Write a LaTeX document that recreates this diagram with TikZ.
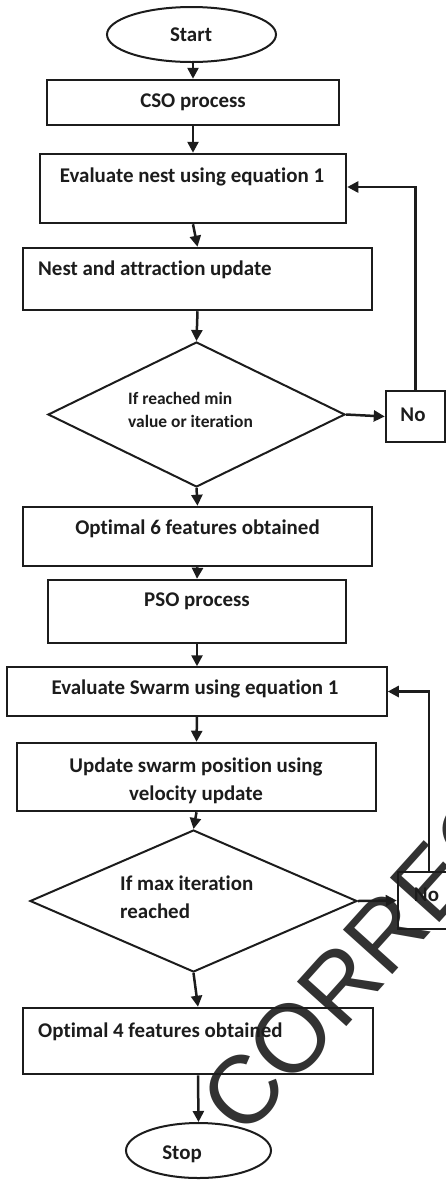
\documentclass[tikz,border=0pt]{standalone}
\usepackage{fontspec}
\setmainfont{Carlito}[Ligatures=NoCommon]
\newfontfamily\wmfont{Liberation Sans}
\usetikzlibrary{shapes.geometric,arrows.meta}
\definecolor{ink}{HTML}{1C1C1C}
\tikzset{
  box/.style={draw=ink, line width=2.5bp, rectangle, inner sep=0pt},
  thinbox/.style={draw=ink, line width=1.5bp, rectangle, inner sep=0pt},
  oval/.style={draw=ink, line width=2bp, ellipse, inner sep=0pt},
  dia/.style={draw=ink, line width=2bp, diamond, inner sep=0pt},
  lbl/.style={text=ink, inner sep=0pt, font=\bfseries\fontsize{21}{28}\selectfont},
  slbl/.style={text=ink, inner sep=0pt, font=\bfseries\fontsize{17.5}{23}\selectfont},
  arr/.style={draw=ink, line width=2.5bp, -{Triangle[length=11bp,width=11bp]}},
}
\begin{document}
\begin{tikzpicture}[x=1bp,y=-1bp]
\useasboundingbox (0,0) rectangle (446,1180);
\fill[white] (0,0) rectangle (446,1180);
\begin{scope}
\clip (0,0) rectangle (446,1180);
% shapes
\node[oval, minimum width=169bp, minimum height=55bp] (start) at (191.5,34.5) {};
\node[box, minimum width=292bp, minimum height=45bp] (cso) at (193,102.5) {};
\node[box, minimum width=306bp, minimum height=69bp] (evn) at (193,188.5) {};
\node[box, minimum width=349bp, minimum height=62bp] (nest) at (197.5,279) {};
\node[dia, minimum width=297bp, minimum height=145bp] (d1) at (196.5,414.5) {};
\node[box, minimum width=59bp, minimum height=51bp] (no1) at (415.5,416.5) {};
\node[box, minimum width=349bp, minimum height=59bp] (opt6) at (197.5,536.5) {};
\node[box, minimum width=298bp, minimum height=63bp] (pso) at (197,611.5) {};
\node[thinbox, minimum width=380bp, minimum height=49bp] (evs) at (197,691.5) {};
\node[box, minimum width=359bp, minimum height=68bp] (upd) at (196.5,777) {};
\node[dia, minimum width=327bp, minimum height=142bp] (d2) at (193.5,901) {};
\node[box, minimum width=72bp, minimum height=57bp] (no2) at (434,900.5) {};
\node[box, minimum width=350bp, minimum height=66bp] (opt4) at (198,1041) {};
\node[oval, minimum width=145bp, minimum height=55bp] (stop) at (198.5,1150.5) {};
% texts
\node[lbl] (tstart) at (191,35) {Start};
\node[lbl] (tcso) at (193,102) {CSO process};
\node[lbl] (tevn) at (192,177) {Evaluate nest using equation 1};
\node[lbl, anchor=west] (tnest) at (38,270) {Nest and attraction update};
\node[slbl, anchor=west, align=left] (td1) at (128,409.5) {If reached min\\value or iteration};
\node[lbl] (tno1) at (413,415) {No};
\node[lbl] (topt6) at (197.5,529) {Optimal 6 features obtained};
\node[lbl] (tpso) at (197,601) {PSO process};
\node[lbl] (tevs) at (195,689) {Evaluate Swarm using equation 1};
\node[lbl, align=center] (tupd) at (196,781) {Update swarm position using\\velocity update};
\node[lbl, anchor=west, align=left] (td2) at (120,897.5) {If max iteration\\reached};
\node[lbl] (tno2) at (426.5,895) {No};
\node[lbl, anchor=west] (topt4) at (38,1032) {Optimal 4 features obtained};
\node[lbl] (tstop) at (182,1154) {Stop};
% connectors
\draw[arr] (start.south -| cso.north) -- (cso.north);
\draw[arr] (cso.south) -- (evn.north);
\draw[arr] (evn.south) -- (nest.north);
\draw[arr] (nest.south) -- (d1.north);
\draw[arr] (d1.east) -- (no1.west);
\draw[arr] (no1.north) |- ([yshift=1.5bp]evn.east);
\draw[arr] (d1.south) -- (opt6.north);
\draw[arr] (opt6.south) -- (pso.north);
\draw[arr] (pso.south) -- (evs.north);
\draw[arr] (evs.south) -- (upd.north);
\draw[arr] (upd.south) -- (d2.north);
\draw[arr] (d2.east) -- (no2.west);
\coordinate (fb2) at (429,872);
\draw[arr] (fb2) |- (evs.east);
\draw[arr] (d2.south) -- (opt4.north);
\draw[arr] (opt4.south) -- (stop.north);
% watermark
\node[rotate=48, anchor=base west, inner sep=0pt, text=ink, text opacity=0.9,
  font=\wmfont\fontsize{97}{97}\selectfont] (wm) at (244,1140) {CORRECTED};
\end{scope}
\end{tikzpicture}
\end{document}
